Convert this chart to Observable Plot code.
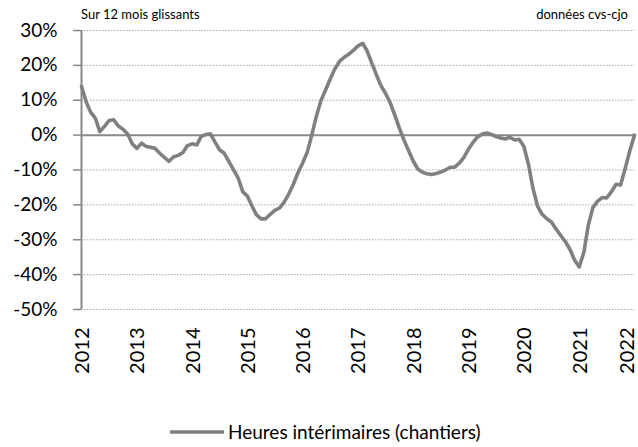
<!DOCTYPE html>
<html><head><meta charset="utf-8">
<script src="https://cdn.jsdelivr.net/npm/d3@7"></script>
<script src="https://cdn.jsdelivr.net/npm/@observablehq/plot@0.6"></script>
<style>
body{margin:0;background:#fff;font-family:Lato,"Open Sans",sans-serif;}
#wrap{position:relative;width:638px;height:447px;overflow:hidden;}
.note{position:absolute;font-size:13px;color:#000;white-space:nowrap;}
#legend{position:absolute;left:170px;top:420px;display:flex;align-items:center;font-size:19px;color:#000;white-space:nowrap;}
#legend svg{margin-right:4px;}
</style></head><body>
<div id="wrap">
  <div id="chart"></div>
  <div class="note" style="left:81px;top:6px;">Sur 12 mois glissants</div>
  <div class="note" style="right:10px;top:6px;">données cvs-cjo</div>
  <div id="legend"><svg width="54" height="10"><line x1="0" x2="54" y1="5" y2="5" stroke="#808080" stroke-width="3.5"/></svg><span>Heures intérimaires (chantiers)</span></div>
</div>
<script>
// Monthly values, January 2012 to January 2022 (% over 12 rolling months)
const startYear = 2012;
const values = [
  14.0, 9.5, 6.6, 4.9, 1.0, 2.5, 4.2, 4.4, 2.6, 1.7, 0.3, -2.5,
  -3.8, -2.3, -3.2, -3.5, -3.8, -5.2, -6.4, -7.5, -6.2, -5.8, -5.0, -3.0,
  -2.5, -2.8, -0.4, 0.2, 0.4, -2.0, -4.2, -5.2, -7.6, -9.9, -12.3, -16.2,
  -17.5, -20.4, -22.8, -24.0, -24.0, -22.7, -21.6, -20.9, -19.2, -16.9, -14.0, -10.8,
  -8.0, -4.8, 0.0, 5.5, 9.9, 13.0, 16.1, 19.0, 21.2, 22.3, 23.2, 24.3,
  25.6, 26.3, 24.2, 20.7, 17.4, 14.2, 12.0, 9.3, 5.7, 2.0, -1.5, -4.5,
  -7.5, -9.8, -10.6, -11.1, -11.3, -11.0, -10.6, -10.0, -9.2, -9.2, -8.0, -6.4,
  -4.0, -2.0, -0.5, 0.3, 0.6, 0.2, -0.4, -0.8, -1.1, -0.6, -1.4, -1.2,
  -3.2, -8.5, -15.2, -20.4, -22.7, -24.0, -24.9, -26.9, -28.8, -30.5, -32.8, -35.8,
  -37.8, -33.5, -26.0, -20.8, -19.0, -17.9, -18.0, -16.3, -14.1, -14.3, -9.5, -4.5,
  0.0
];
const yearTicks = [2012, 2013, 2014, 2015, 2016, 2017, 2018, 2019, 2020, 2021, 2022];
const yTicks = [30, 20, 10, 0, -10, -20, -30, -40, -50];
const seriesName = "Heures intérimaires (chantiers)";

const data = values.map((v, i) => ({date: new Date(Date.UTC(startYear, i, 1)), value: v}));
const yearDates = yearTicks.map(y => new Date(Date.UTC(y, 0, 1)));
const x0 = yearDates[0], x1 = yearDates[yearDates.length - 1];
const yearFmt = d => String(d.getUTCFullYear());
const xAxisOpts = {tickSize: 0, tickPadding: 18, tickRotate: -90, fontSize: 20, fill: "#000", tickFormat: yearFmt, label: null};

const chart = Plot.plot({
  width: 638,
  height: 447,
  marginLeft: 81,
  marginRight: 4,
  marginTop: 30,
  marginBottom: 138,
  style: {fontFamily: "Lato, 'Open Sans', sans-serif", background: "#fff", color: "#000"},
  x: {type: "utc", domain: [x0, x1]},
  y: {domain: [-50, 30]},
  marks: [
    Plot.gridY(yTicks.filter(d => d !== 0), {stroke: "#a6a6a6", strokeOpacity: 1, strokeDasharray: "1.5,1.5", strokeWidth: 1}),
    Plot.axisY({ticks: yTicks, tickSize: 8, stroke: "#888", strokeWidth: 1.5, tickFormat: () => "", label: null}),
    Plot.axisY({ticks: yTicks, tickSize: 0, tickPadding: 24, fontSize: 19, fill: "#000", tickFormat: d => d + "%", label: null}),
    Plot.axisX({...xAxisOpts, ticks: yearDates.slice(0, -1), dx: 1}),
    Plot.axisX({...xAxisOpts, ticks: yearDates.slice(-1), dx: -7}),
    Plot.ruleY([0], {stroke: "#888", strokeWidth: 2}),
    Plot.ruleX([x0], {y1: -50, y2: 30, stroke: "#888", strokeWidth: 2}),
    Plot.line(data, {x: "date", y: "value", stroke: "#808080", strokeWidth: 3.6, strokeLinejoin: "round", strokeLinecap: "round"})
  ]
});
document.getElementById("chart").appendChild(chart);
</script>
</body></html>
